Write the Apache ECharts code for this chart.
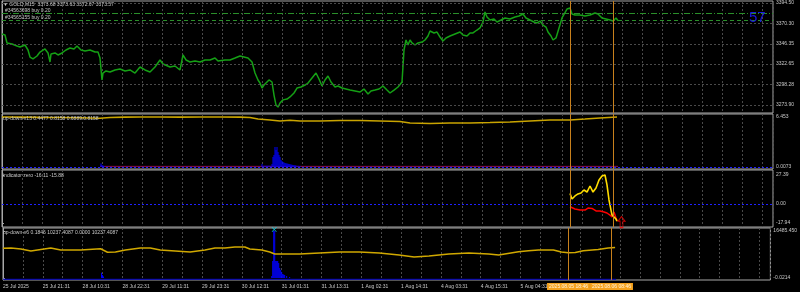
<!DOCTYPE html>
<html><head><meta charset="utf-8">
<script src="https://cdn.jsdelivr.net/npm/echarts@6/dist/echarts.min.js"></script>
<style>html,body{margin:0;padding:0;background:#000;}#c{width:800px;height:292px;}</style>
</head><body><div id="c"></div><script>
// ---- data (x values are hours since 25 Jul 2025 09:31, M15 chart) ----
const timeLabels = ["25 Jul 2025","25 Jul 21:31","28 Jul 10:31","28 Jul 22:31","29 Jul 11:31","29 Jul 23:31","30 Jul 12:31","31 Jul 01:31","31 Jul 13:31","1 Aug 02:31","1 Aug 14:31","4 Aug 03:31","4 Aug 15:31","5 Aug 04:31"];
const priceTicks = [3273.90, 3298.28, 3322.65, 3346.35, 3370.30, 3394.50];
const osc1Ticks = [0.0073, 6.453];
const osc2Ticks = [-17.94, 0, 27.39];
const osc3Ticks = [-0.0214, 16485.45];
const osc3TickText = ["-0.0214", "16485.450"];
const orderLevels = [3382.7, 3374.0];
const lastPrice = 3373.57;
const vLineHours = [170.4, 183.4];
const vLineLabels = ["2025.08.05 18:46", "2025.08.06 08:46"];

const price = [[0,3357.9],[0.9,3356.7],[1.5,3347.3],[3.0,3346.1],[4.5,3343.7],[5.4,3342.5],[6.9,3344.9],[7.8,3339.0],[8.4,3330.7],[9.3,3328.4],[10.5,3331.9],[11.4,3336.6],[12.9,3340.2],[13.8,3335.5],[14.4,3324.8],[14.7,3334.3],[15.9,3335.5],[16.8,3333.1],[18.0,3335.5],[19.2,3339.0],[20.4,3341.4],[21.6,3340.2],[22.5,3343.7],[23.7,3339.0],[24.9,3337.8],[26.4,3339.0],[27.9,3336.6],[28.8,3336.6],[29.4,3329.5],[30.0,3303.6],[30.3,3311.8],[31.2,3314.2],[32.4,3313.0],[33.9,3315.4],[35.4,3316.5],[36.9,3314.2],[38.4,3315.4],[39.9,3311.8],[41.4,3318.9],[42.9,3315.4],[44.4,3313.0],[45.9,3318.9],[47.4,3327.2],[48.3,3322.4],[48.9,3323.6],[50.4,3318.9],[51.9,3320.1],[53.4,3315.4],[54.3,3333.1],[55.2,3327.2],[56.4,3324.8],[57.9,3326.0],[59.4,3324.8],[60.9,3327.2],[62.4,3327.2],[63.9,3329.5],[64.8,3326.0],[65.4,3324.8],[66.9,3327.2],[68.4,3327.2],[69.9,3329.5],[71.4,3331.9],[72.6,3330.7],[73.8,3329.5],[75.0,3324.8],[75.9,3311.8],[76.8,3303.6],[77.4,3300.0],[78.0,3294.1],[78.6,3297.6],[79.2,3300.0],[80.1,3303.6],[81.0,3301.2],[81.6,3285.8],[82.2,3274.0],[82.8,3271.6],[83.4,3276.4],[84.3,3280.1],[85.5,3281.1],[86.4,3283.5],[87.6,3288.2],[88.5,3294.1],[89.7,3295.3],[90.9,3297.6],[91.8,3300.0],[93.0,3305.9],[94.2,3311.8],[95.1,3304.7],[96.0,3296.5],[96.9,3303.6],[97.8,3308.3],[98.7,3301.2],[99.9,3295.3],[100.8,3296.5],[102.0,3294.1],[103.2,3292.9],[104.4,3291.7],[105.9,3290.6],[107.4,3289.4],[108.6,3292.9],[109.8,3287.0],[110.7,3290.6],[111.9,3291.7],[113.1,3292.9],[114.3,3296.5],[115.5,3291.7],[116.4,3288.2],[117.6,3291.7],[118.8,3295.3],[120.0,3301.2],[120.6,3339.0],[121.2,3350.8],[121.8,3344.9],[122.4,3350.8],[123.0,3347.3],[123.9,3344.9],[124.8,3347.3],[126.0,3348.4],[126.9,3350.8],[127.8,3355.5],[128.4,3361.4],[129.6,3359.1],[130.5,3360.2],[131.4,3354.3],[132.3,3349.6],[133.2,3353.2],[134.4,3355.5],[135.9,3357.9],[137.4,3360.2],[138.3,3356.7],[139.5,3355.5],[140.4,3359.1],[141.3,3359.1],[142.5,3362.6],[143.4,3365.0],[144.3,3372.1],[144.9,3383.9],[145.5,3377.9],[146.4,3374.4],[147.6,3375.6],[148.5,3372.1],[149.7,3374.4],[150.9,3376.8],[152.4,3375.6],[153.9,3377.9],[155.1,3379.1],[156.3,3381.5],[157.2,3376.8],[158.4,3374.4],[159.6,3372.1],[160.5,3370.9],[161.4,3373.2],[162.3,3368.5],[163.2,3366.1],[163.8,3360.2],[164.7,3355.5],[165.3,3350.8],[166.2,3353.2],[167.1,3365.0],[168.0,3376.8],[168.6,3379.1],[169.5,3387.4],[170.4,3388.6],[171.0,3381.5],[171.9,3380.3],[173.4,3380.3],[174.9,3379.1],[176.4,3380.3],[177.9,3382.7],[178.8,3381.5],[180.0,3376.8],[181.2,3375.6],[182.4,3374.4],[183.3,3373.2],[184.2,3376.8],[184.8,3373.6]];

const osc1Line = [[0,6.45],[5.4,6.44],[11.4,6.41],[17.4,6.39],[23.4,6.35],[29.4,6.29],[32.4,6.39],[36.9,6.44],[41.4,6.45],[47.4,6.45],[53.4,6.44],[59.4,6.45],[65.4,6.45],[71.4,6.44],[74.4,6.38],[76.8,6.19],[80.4,6.07],[83.4,5.94],[86.4,6.03],[89.4,5.94],[95.4,5.94],[101.4,6.00],[107.4,6.00],[113.4,5.94],[119.4,5.87],[122.4,5.68],[128.4,5.61],[134.4,5.68],[140.4,5.68],[146.4,5.74],[152.4,5.81],[158.4,5.94],[164.4,6.07],[170.4,6.07],[174.9,6.19],[179.4,6.32],[184.5,6.45]];
const osc1Hist = [[29.7,0.45],[30.0,0.26],[30.3,0.2],[30.6,0.13],[78.0,0.39],[78.6,0.2],[79.2,0.2],[79.8,0.2],[80.4,0.2],[81.0,0.39],[81.3,1.29],[81.6,1.55],[81.9,2.58],[82.2,2.19],[82.5,2.58],[82.8,1.94],[83.1,1.55],[83.4,1.29],[83.7,0.9],[84.0,0.77],[84.3,0.65],[84.6,0.58],[84.9,0.52],[85.2,0.48],[85.5,0.45],[85.8,0.42],[86.1,0.39],[86.4,0.35],[86.7,0.32],[87.0,0.3],[87.3,0.26],[87.6,0.24],[87.9,0.22],[88.2,0.19],[88.8,0.16],[89.4,0.13]];
const osc1Base = [[29.4,0.08],[184.8,0.08]];

const osc2Yellow = [[170.4,9.9],[171.0,4.7],[171.9,7.6],[172.8,9.5],[173.7,10.4],[174.6,13.2],[175.5,11.3],[176.4,17.0],[177.3,11.3],[178.2,15.1],[179.1,22.7],[180.0,26.4],[180.6,24.6],[180.9,27.39],[181.5,18.0],[182.1,3.8],[182.7,-5.7],[183.0,-10.4],[183.6,-11.3],[184.2,-14.2],[184.5,-16.11]];
const osc2Red = [[170.4,-2.6],[171.9,-4.7],[173.4,-5.7],[174.9,-5.7],[175.8,-3.8],[177.0,-4.2],[178.2,-6.6],[179.4,-6.6],[180.6,-7.5],[181.5,-8.5],[182.4,-10.4],[183.0,-12.3],[183.6,-7.5],[184.2,-13.2],[184.5,-15.88]];
const osc2Arrow = [[185.85,-17.0]];

const osc3Line = [[0,10417],[2.4,10523],[5.4,10172],[8.4,9470],[11.4,9996],[14.4,10523],[17.4,9821],[23.4,9821],[29.4,10277],[31.5,9014],[33.9,9120],[36.9,9821],[41.4,10523],[44.4,10523],[47.4,9821],[51.9,9470],[56.4,9120],[60.9,9821],[63.9,10523],[66.9,10523],[69.9,10873],[72.9,10873],[74.4,10172],[78.0,9821],[80.4,9120],[81.9,8418],[84.9,8418],[89.4,8418],[95.4,8769],[101.4,9120],[107.4,9120],[113.4,8769],[119.4,8067],[123.9,7366],[128.4,7717],[134.4,8418],[140.4,8769],[146.4,8418],[149.4,8067],[155.4,9225],[158.4,9575],[161.4,9821],[165.9,9821],[168.3,9120],[170.4,8874],[172.5,8944],[174.9,9540],[179.4,9996],[182.4,10523],[184.5,10700]];
const osc3Hist = [[29.7,1859],[30.0,1052],[30.3,526],[81.0,700],[81.3,5963],[81.6,16485],[81.9,16485],[82.2,5963],[82.5,5963],[82.8,5963],[83.1,5261],[83.4,3508],[83.7,2806],[84.0,2105],[84.3,1403],[84.6,1200],[84.9,1052],[85.5,702],[86.4,351]];
const osc3Base = [[0,-450],[184.8,-450]];
const osc3Mark = [[81.75,17011]];

// ---- styling / layout ----
const FONT = 'Liberation Sans';
const TXT = '#c8c8c8';
const GRIDC = '#4a4a4a';
const BORDER = '#a8a8a8';
const VLINE = '#c8801c';

const grids = [
  {top:1, height:112},
  {top:114, height:55},
  {top:170, height:57},
  {top:228, height:52}
].map(g => Object.assign({left:2, right:27, show:true, borderColor:BORDER, borderWidth:1, backgroundColor:'transparent'}, g));

const yRanges = [[3264.59, 3396.86], [-0.257, 6.84], [-21.72, 32.11], [-701.5, 17537.5]];
const yTicks = [priceTicks, osc1Ticks, osc2Ticks, osc3Ticks];
const yFmt = [
  v => v.toFixed(2),
  v => String(v),
  v => v.toFixed(2),
  v => osc3TickText[osc3Ticks.indexOf(v)] || String(v)
];

const xAxes = grids.map((g, i) => ({
  type:'value', gridIndex:i, min:0, max:231.3, interval:6,
  axisLine:{show:false}, axisTick:{show:false},
  splitLine:{show:true, lineStyle:{color:GRIDC, type:[2,2], width:1}},
  axisLabel: i === 3 ? {
    show:true, color:TXT, fontSize:5, fontFamily:FONT, align:'left', margin:4,
    showMaxLabel:false, showMinLabel:true, hideOverlap:false,
    formatter: v => { const k = Math.round(v); return (k % 12 === 0 && k/12 < timeLabels.length) ? timeLabels[k/12] : ''; }
  } : {show:false}
}));

const yAxes = grids.map((g, i) => ({
  type:'value', gridIndex:i, position:'right', min:yRanges[i][0], max:yRanges[i][1],
  splitLine:{show:false},
  axisLine:{show:true, lineStyle:{color:BORDER, width:1}},
  axisTick:{show:true, length:2, customValues:yTicks[i], lineStyle:{color:BORDER}},
  axisLabel:{show:true, customValues:yTicks[i], formatter:yFmt[i], color:TXT, fontSize:5, fontFamily:FONT, margin:3}
}));

// vertical event lines drawn through each grid's own scales
const vLineSeries = (i) => ({
  type:'custom', xAxisIndex:i, yAxisIndex:i, clip:false, z:6, silent:true,
  data: vLineHours.map((h, k) => [h, k]),
  encode:{x:0},
  renderItem: (params, api) => {
    const h = api.value(0), k = api.value(1);
    const top = api.coord([h, yRanges[i][1]]);
    const bot = api.coord([h, yRanges[i][0]]);
    const x = Math.round(top[0]) + 0.5;
    const children = [{type:'line', shape:{x1:x, y1:top[1], x2:x, y2:bot[1]}, style:{stroke:VLINE, lineWidth:1}}];
    if (i === 3) {
      children.push({type:'text', x:x, y:bot[1] + 6.5, style:{text:vLineLabels[k], fill:'#fff4dc', backgroundColor:'#f5a21e',
        padding:[1,2], fontSize:5, fontFamily:FONT, align:'center', verticalAlign:'middle'}});
    }
    return {type:'group', children:children};
  }
});

const mlBase = {symbol:['none','none'], silent:true, animation:false, label:{show:false}};

const series = [
  { type:'line', name:'price', xAxisIndex:0, yAxisIndex:0, data:price, showSymbol:false, symbol:'none',
    lineStyle:{color:'#15a015', width:1.5}, z:3,
    markLine: Object.assign({}, mlBase, {data: [
      ...priceTicks.map(v => ({yAxis:v, lineStyle:{color:GRIDC, type:[2,2], width:1}})),
      {yAxis:orderLevels[0], lineStyle:{color:'#2a8f2a', type:[6,2,1,2], width:1}},
      {yAxis:orderLevels[1], lineStyle:{color:'#2a8f2a', type:[4,3], width:1}},
      {yAxis:lastPrice, lineStyle:{opacity:0}, label:{show:true, position:'end', distance:2, formatter:lastPrice.toFixed(2), color:'#000', backgroundColor:'#ffffff', padding:[1,1], fontSize:5, fontFamily:FONT}}
    ]})
  },
  { type:'line', xAxisIndex:1, yAxisIndex:1, data:osc1Base, symbol:'none', lineStyle:{color:'#8a1050', width:1}, z:2 },
  { type:'bar', xAxisIndex:1, yAxisIndex:1, data:osc1Hist, barWidth:1, itemStyle:{color:'#0000ff'}, z:3,
    markLine: Object.assign({}, mlBase, {data:[{yAxis:0, lineStyle:{color:'#2020ff', type:[2,2], width:1}}]}) },
  { type:'line', xAxisIndex:1, yAxisIndex:1, data:osc1Line, symbol:'none', lineStyle:{color:'#c9a400', width:1.6}, z:4 },
  { type:'line', xAxisIndex:2, yAxisIndex:2, data:osc2Red, symbol:'none', lineStyle:{color:'#ff0000', width:1.5}, z:3,
    markLine: Object.assign({}, mlBase, {data:[{yAxis:0, lineStyle:{color:'#2020ff', type:[2,2], width:1}}]}) },
  { type:'line', xAxisIndex:2, yAxisIndex:2, data:osc2Yellow, symbol:'none', lineStyle:{color:'#ffdc00', width:1.6}, z:4 },
  { type:'scatter', xAxisIndex:2, yAxisIndex:2, data:osc2Arrow, symbol:'path://M5,0 L10,5 L7,5 L7,12 L3,12 L3,5 L0,5 Z', symbolSize:[7,11],
    itemStyle:{color:'transparent', borderColor:'#ff0000', borderWidth:1}, z:5 },
  { type:'line', xAxisIndex:3, yAxisIndex:3, data:osc3Base, symbol:'none', lineStyle:{color:'#0000c0', width:1}, z:2 },
  { type:'bar', xAxisIndex:3, yAxisIndex:3, data:osc3Hist, barWidth:1, itemStyle:{color:'#0000ff'}, z:3 },
  { type:'line', xAxisIndex:3, yAxisIndex:3, data:osc3Line, symbol:'none', lineStyle:{color:'#d0a800', width:1.6}, z:4 },
  { type:'scatter', xAxisIndex:3, yAxisIndex:3, data:osc3Mark, symbol:'path://M0,1 L1,0 L5,4 L9,0 L10,1 L6,5 L10,9 L9,10 L5,6 L1,10 L0,9 L4,5 Z', symbolSize:5,
    itemStyle:{color:'#00e8ff'}, z:5 },
  vLineSeries(0), vLineSeries(1), vLineSeries(2), vLineSeries(3)
];

const tStyle = (fs, color) => ({fontSize:fs, color:color || TXT, fontFamily:FONT, fontWeight:'normal', lineHeight:fs + 1});
const titles = [
  {text:'▼ GOLD,M15  3373.68 3373.63 3372.67 3373.57', left:3, top:2, padding:0, textStyle:tStyle(5)},
  {text:'#34563698 buy 0.20', left:5, top:8, padding:0, textStyle:tStyle(5)},
  {text:'#34565155 buy 0.20', left:5, top:14.5, padding:0, textStyle:tStyle(5)},
  {text:'57', left:749, top:9.5, padding:0, textStyle:tStyle(15, '#1818e0')},
  {text:'up-down-v13 0.4477 0.8158 0.6889 0.8158', left:3, top:116, padding:0, textStyle:tStyle(5)},
  {text:'indicator zero -16.11 -15.88', left:3, top:173, padding:0, textStyle:tStyle(5)},
  {text:'up-down-v6 0.1846 10237.4087 0.0000 10237.4087', left:3, top:229.5, padding:0, textStyle:tStyle(5)}
];

const chart = echarts.init(document.getElementById('c'), null, {renderer:'canvas'});
chart.setOption({
  backgroundColor:'#000000',
  animation:false,
  title:titles,
  grid:grids,
  xAxis:xAxes,
  yAxis:yAxes,
  series:series
});
</script></body></html>
